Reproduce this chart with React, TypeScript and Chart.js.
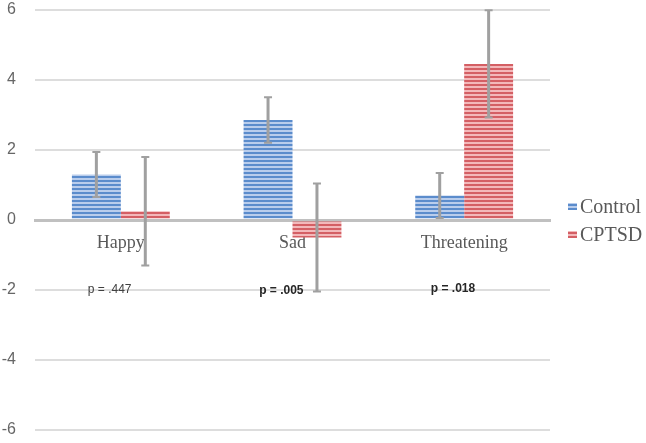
import React, { useEffect, useRef } from "react";
import { Chart, registerables } from "chart.js";

Chart.register(...registerables);

const categories = ["Happy", "Sad", "Threatening"];
const seriesNames = ["Control", "CPTSD"];
const controlMeans = [1.3, 2.86, 0.7];
const cptsdMeans = [0.25, -0.5, 4.46];
const controlErr = [0.64, 0.65, 0.64];
const cptsdErr = [1.55, 1.54, 1.53];
const pLabels = ["p = .447", "p = .005", "p = .018"];
const pBold = [false, true, true];
const pValueY = [-2.0, -2.03, -1.96];
const yTicks = [-6, -4, -2, 0, 2, 4, 6];

function makeStripe(dark: string, light: string) {
  const c = document.createElement("canvas");
  c.width = 4;
  c.height = 4;
  const ctx = c.getContext("2d")!;
  ctx.fillStyle = light;
  ctx.fillRect(0, 0, 4, 4);
  ctx.fillStyle = dark;
  ctx.fillRect(0, 0, 4, 2);
  return ctx.createPattern(c, "repeat")!;
}

export default function App() {
  const ref = useRef<HTMLCanvasElement>(null);
  useEffect(() => {
    const canvas = ref.current!;
    const blue = makeStripe("#5b8ccc", "#b9cdec");
    const red = makeStripe("#d45f64", "#f3b8ba");
    const errs = [controlErr, cptsdErr];

    const errorBars = {
      id: "errorBars",
      afterDatasetsDraw(chart: any) {
        const ctx = chart.ctx;
        const y = chart.scales.y;
        ctx.save();
        ctx.strokeStyle = "#a0a0a0";
        chart.data.datasets.forEach((ds: any, i: number) => {
          const meta = chart.getDatasetMeta(i);
          meta.data.forEach((bar: any, j: number) => {
            const v = ds.data[j];
            const e = errs[i][j];
            const yt = y.getPixelForValue(v + e);
            const yb = y.getPixelForValue(v - e);
            ctx.lineWidth = 3;
            ctx.beginPath();
            ctx.moveTo(bar.x, yt);
            ctx.lineTo(bar.x, yb);
            ctx.stroke();
            ctx.lineWidth = 2;
            ctx.beginPath();
            ctx.moveTo(bar.x - 4, yt);
            ctx.lineTo(bar.x + 4, yt);
            ctx.moveTo(bar.x - 4, yb);
            ctx.lineTo(bar.x + 4, yb);
            ctx.stroke();
          });
        });
        ctx.restore();
      },
    };

    const overlay = {
      id: "overlay",
      afterDraw(chart: any) {
        const ctx = chart.ctx;
        const x = chart.scales.x;
        const y = chart.scales.y;
        const area = chart.chartArea;
        ctx.save();
        ctx.textAlign = "center";
        ctx.textBaseline = "middle";
        pLabels.forEach((t, j) => {
          ctx.font = (pBold[j] ? "bold " : "") + "12px 'Liberation Sans', Arial, sans-serif";
          ctx.fillStyle = pBold[j] ? "#262626" : "#404040";
          ctx.fillText(t, x.getPixelForValue(j - 0.065), y.getPixelForValue(pValueY[j]));
        });
        // legend
        const cy = (area.top + area.bottom) / 2;
        const bx = area.right + 18;
        ctx.textAlign = "left";
        ctx.font = "20px 'Liberation Serif', 'Times New Roman', serif";
        chart.data.datasets.forEach((ds: any, i: number) => {
          const ly = cy - 13 + i * 28;
          ctx.fillStyle = ds.backgroundColor;
          ctx.fillRect(bx, ly - 4, 9, 7);
          ctx.fillStyle = "#595959";
          ctx.fillText(ds.label, bx + 12, ly + 1);
        });
        ctx.restore();
      },
    };

    const chart = new Chart(canvas, {
      type: "bar",
      data: {
        labels: categories,
        datasets: [
          {
            label: seriesNames[0],
            data: controlMeans,
            backgroundColor: blue as any,
            borderWidth: 0,
            barPercentage: 1,
            categoryPercentage: 0.57,
          },
          {
            label: seriesNames[1],
            data: cptsdMeans,
            backgroundColor: red as any,
            borderWidth: 0,
            barPercentage: 1,
            categoryPercentage: 0.57,
          },
        ],
      },
      options: {
        animation: false,
        responsive: false,
        layout: { padding: { left: 0, top: 10, bottom: 13, right: 96 } },
        plugins: {
          tooltip: { enabled: false },
          legend: { display: false },
        },
        scales: {
          x: {
            position: { y: 0 } as any,
            grid: { display: false, drawTicks: false },
            border: { display: true, color: "#c0c0c0", width: 3 },
            ticks: {
              padding: 12,
              color: "#595959",
              font: { family: "'Liberation Serif', 'Times New Roman', serif", size: 18 },
            },
            afterFit: (s: any) => {
              s.paddingLeft = 0;
              s.paddingRight = 0;
              s.paddingTop = 0;
              s.paddingBottom = 0;
            },
          },
          y: {
            min: -6,
            max: 6,
            afterBuildTicks: (s: any) => {
              s.ticks = yTicks.map((v) => ({ value: v }));
            },
            afterFit: (s: any) => {
              s.width = 35;
              s.paddingTop = 0;
              s.paddingBottom = 0;
              s.paddingLeft = 0;
              s.paddingRight = 0;
            },
            grid: {
              drawTicks: false,
              color: (c: any) => (c.tick && c.tick.value === 0 ? "#c0c0c0" : "#dddddd"),
              lineWidth: (c: any) => (c.tick && c.tick.value === 0 ? 3 : 2),
            },
            border: { display: false },
            ticks: {
              padding: 19,
              color: "#666666",
              font: { family: "'Liberation Sans', Arial, sans-serif", size: 16 },
            },
          },
        },
      },
      plugins: [errorBars, overlay],
    });
    return () => chart.destroy();
  }, []);
  return (
    <div style={{ position: "fixed", left: 0, top: 0, width: 646, height: 443, background: "#fff" }}>
      <canvas ref={ref} width={646} height={443} />
    </div>
  );
}
